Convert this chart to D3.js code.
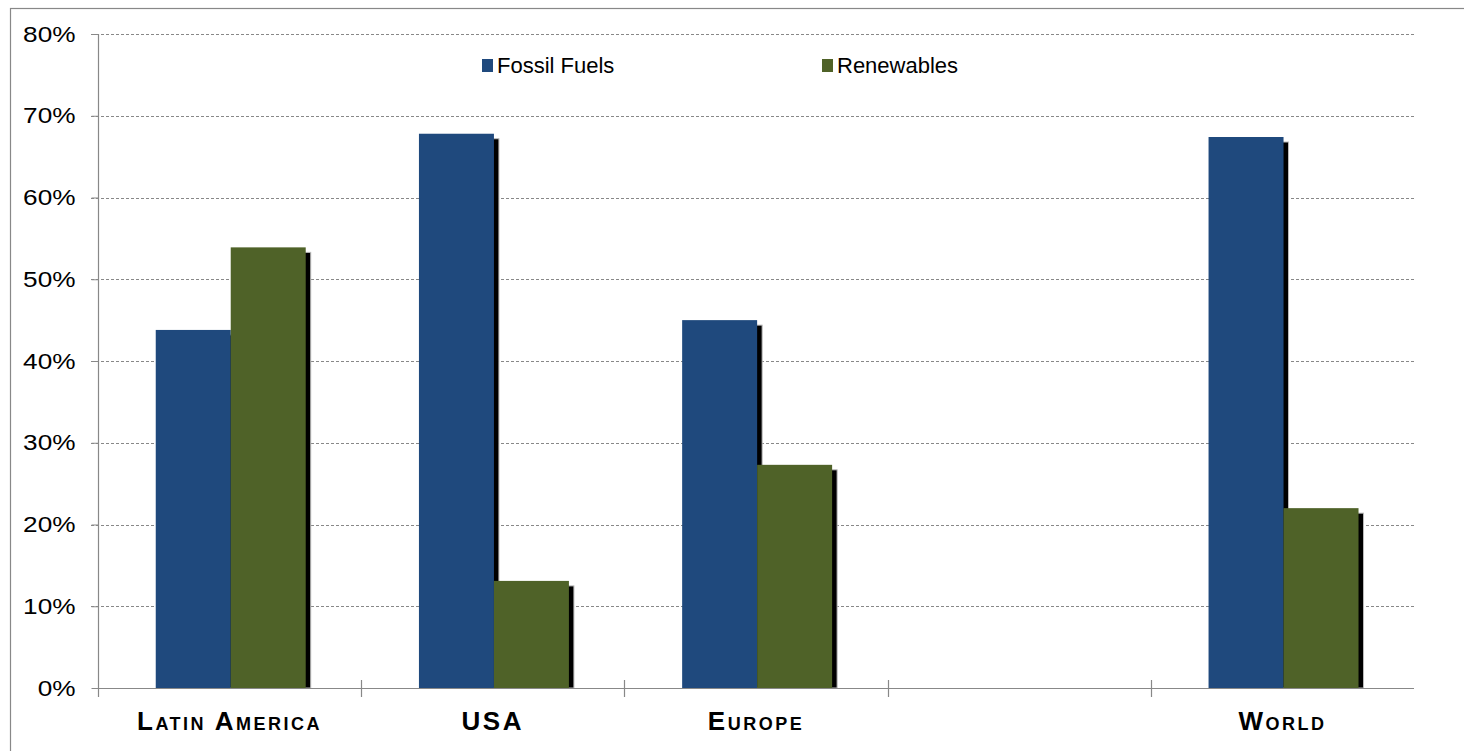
<!DOCTYPE html>
<html><head><meta charset="utf-8">
<script src="https://cdn.jsdelivr.net/npm/d3@7"></script>
<style>body{margin:0;background:#fff;}svg{display:block;}</style>
</head><body>
<svg id="c" width="1464" height="751"></svg>
<script>
const categories = ["Latin America", "USA", "Europe", "", "World"];
const seriesNames = ["Fossil Fuels", "Renewables"];
const fossil = [0.438, 0.678, 0.450, null, 0.674];
const renewables = [0.539, 0.131, 0.273, null, 0.220];
const yTicks = [0, 0.1, 0.2, 0.3, 0.4, 0.5, 0.6, 0.7, 0.8];
const colors = ["#1F497D", "#4F6228"];

(function () {
const svg = d3.select("#c");
const W = 1464, H = 751;
const pLeft = 98, pRight = 1414, pTop = 34, pBottom = 688;
const font = "Liberation Sans, Arial, sans-serif";

svg.append("rect").attr("x", 10.5).attr("y", 8.5).attr("width", W).attr("height", H)
  .attr("fill", "none").attr("stroke", "#888").attr("stroke-width", 1.2);

const x = d3.scaleBand().domain(d3.range(categories.length)).range([pLeft, pRight]).paddingInner(0).paddingOuter(0);
const inner = d3.scaleBand().domain([0, 1]).range([0, x.bandwidth()]).paddingInner(0).paddingOuter(0.755).align(0.51);
const y = d3.scaleLinear().domain([0, 0.8]).range([pBottom, pTop]);

// gridlines
svg.append("g").selectAll("line").data(yTicks.filter(d => d > 0)).join("line")
  .attr("x1", pLeft - 7).attr("x2", pRight)
  .attr("y1", d => Math.round(y(d)) + 0.5).attr("y2", d => Math.round(y(d)) + 0.5)
  .attr("stroke", "#888").attr("stroke-width", 1).attr("stroke-dasharray", "3,2");

// y axis
const yAxis = svg.append("g").attr("transform", `translate(${pLeft + 0.5},0)`)
  .call(d3.axisLeft(y).tickValues(yTicks).tickFormat(d3.format(".0%")).tickSize(7).tickPadding(16));
yAxis.select(".domain").remove();
yAxis.selectAll(".tick line").attr("stroke", "#888");
yAxis.selectAll(".tick text").attr("font-family", font)
  .attr("font-size", 22).attr("fill", "#000")
  .each(function () {
    const len = this.getComputedTextLength();
    d3.select(this).attr("textLength", len * 1.19).attr("lengthAdjust", "spacingAndGlyphs");
  });
svg.append("line").attr("x1", pLeft + 0.5).attr("x2", pLeft + 0.5).attr("y1", pTop).attr("y2", pBottom + 9)
  .attr("stroke", "#888").attr("stroke-width", 1.2);

// bars
const data = [];
categories.forEach((c, i) => {
  [fossil[i], renewables[i]].forEach((v, s) => { if (v != null) data.push({ i, s, v }); });
});
const g = svg.append("g");
const off = 5;
data.forEach(d => {
  const bx = x(d.i) + inner(d.s);
  const bw = inner.bandwidth();
  const by = y(d.v);
  g.append("rect").attr("x", bx + off).attr("y", by + off).attr("width", bw)
    .attr("height", Math.max(0, pBottom - by - off)).attr("fill", "#000")
    .attr("stroke", "#bbb").attr("stroke-width", 1);
  g.append("rect").attr("x", bx).attr("y", by).attr("width", bw).attr("height", pBottom - by)
    .attr("fill", colors[d.s]);
});

// x axis
svg.append("line").attr("x1", pLeft).attr("x2", pRight).attr("y1", pBottom + 0.5).attr("y2", pBottom + 0.5)
  .attr("stroke", "#888").attr("stroke-width", 1.2);
svg.append("g").selectAll("line").data(d3.range(1, categories.length)).join("line")
  .attr("x1", d => Math.round(x(d)) + 0.5).attr("x2", d => Math.round(x(d)) + 0.5)
  .attr("y1", pBottom - 8).attr("y2", pBottom + 9).attr("stroke", "#888").attr("stroke-width", 1.2);
svg.append("g").selectAll("text").data(categories).join("text")
  .attr("x", (d, i) => x(i) + x.bandwidth() / 2).attr("y", 730)
  .attr("text-anchor", "middle")
  .attr("font-family", font).attr("font-weight", "bold")
  .attr("font-size", 26).attr("font-variant", "small-caps").attr("letter-spacing", 2.5)
  .text(d => d);

// legend
const legX = [482, 822];
seriesNames.forEach((n, s) => {
  svg.append("rect").attr("x", legX[s]).attr("y", 59).attr("width", 11).attr("height", 13).attr("fill", colors[s]);
  svg.append("text").attr("x", legX[s] + 15).attr("y", 73)
    .attr("font-family", font).attr("font-size", 22).text(n);
});
})();
</script>
</body></html>
